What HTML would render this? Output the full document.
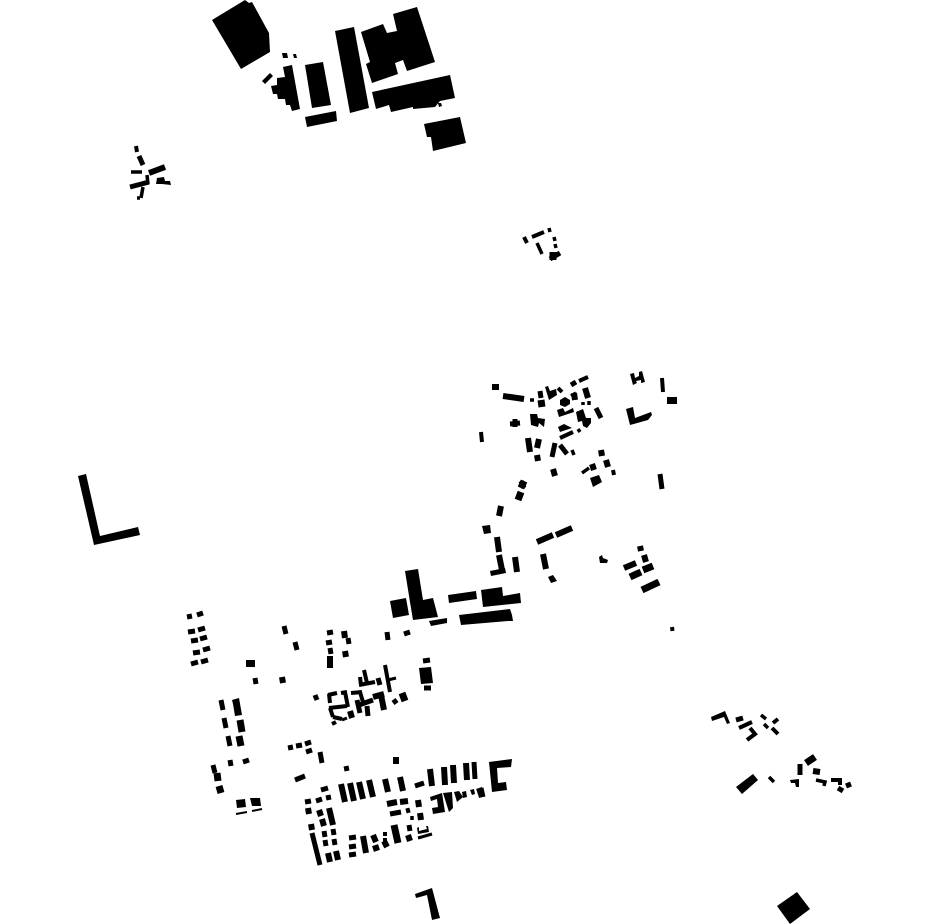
<!DOCTYPE html>
<html><head><meta charset="utf-8"><title>Figure-ground plan</title>
<style>html,body{margin:0;padding:0;background:#fff}svg{display:block}</style></head>
<body>
<svg width="930" height="924" viewBox="0 0 930 924" xmlns="http://www.w3.org/2000/svg">
<rect width="930" height="924" fill="#fff"/>
<g fill="#000">
<polygon points="212,20 245,0 249,3 252,2 269,33 270,52 241,69"/>
<polygon points="282,53 287,53 288,58 283,58"/><polygon points="293,54 296,54 297,58 294,58"/>
<polygon points="262,81 270,73 273,76 265,84"/>
<polygon points="283,67 292,65 300,109 292,111 290,105 286,105 285,99 278,99 277,94 273,94 271,86 277,85 277,78 285,77"/>
<polygon points="305,65 323,62 331,105 312,108"/>
<polygon points="305,117 336,111 337,121 307,127"/>
<polygon points="335,31 354,27 369,108 350,113"/>
<polygon points="361,32 383,24 387,33 397,31 393,14 417,7 435,62 407,71 403,60 395,63 398,74 372,83 366,64 370,62"/>
<polygon points="372,92 450,75 455,98 440,101 435,107 413,109 413,107 391,112 389,105 376,109"/>
<polygon points="438,103 441,103 442,106 439,107"/>
<polygon points="424,124 460,117 466,143 433,151 431,137 427,137"/>

<polygon points="492,384 499,384 499,390 492,390"/>
<polygon points="545,387 548,386 550,391 556,389 557,395 549,400"/>
<polygon points="557,410 563,408 565,412 573,408 574,412 559,417"/>
<polygon points="576,412 583,409 586,418 591,418 591,423 587,428 583,426 582,421 578,422"/>
<polygon points="530,414 537,414 538,418 545,419 544,427 539,423 538,427 531,425"/>
<polygon points="558,427 564,424 572,428 560,432"/>
<polygon points="590,478 599,475 602,482 593,487"/>
<polygon points="630,374 634,373 635,378 639,376 639,372 642,371 645,382 641,383 641,380 636,381 637,383 633,385"/>
<polygon points="667,397 677,397 677,404 667,404"/>
<polygon points="626,409 633,407 635,418 651,412 652,415 648,420 630,425"/>
<polygon points="560,400 565,397 570,400 570,404 565,407 560,405"/>

<polygon points="482,526 490,525 491,533 484,534"/>
<polygon points="490,571 505,568 506,573 491,576"/>
<polygon points="548,577 553,575 557,581 551,583"/>
<polygon points="599,557 602,555 603,558 608,560 607,563 600,563"/>
<polygon points="405,571 418,569 423,600 433,598 438,617 413,620 410,602"/>
<polygon points="390,601 406,598 409,615 393,618"/>
<polygon points="448,595 476,591 477,599 449,603"/>
<polygon points="481,590 502,587 503,596 520,593 521,603 483,607"/>
<polygon points="459,615 510,609 512,615 513,621 508,621 461,625"/>
<polygon points="429,621 447,618 447,623 431,626"/>

<polygon points="327,656 333,656 333,668 327,668"/>
<polygon points="246,660 255,660 255,667 246,667"/>
<polygon points="419,668 431,667 433,683 421,684"/>
<polygon points="232,700 239,698 242,715 235,716 233,704"/>

<polygon points="489,762 512,759 511,767 497,768 498,783 506,782 507,790 492,792"/>
<polygon points="236,800 245,799 246,807 237,808"/>
<polygon points="250,798 260,798 261,806 252,806"/>
<polygon points="430,797 442,793 445,812 433,814 432,808 438,807 437,799 431,801"/>
<polygon points="443,793 452,792 453,808 449,812"/>
<polygon points="454,792 459,791 463,797 457,802"/>
<polygon points="462,792 466,791 467,797 463,798"/>
<polygon points="470,790 474,789 475,794 472,795"/>
<polygon points="417,828 419,827 419,831 427,829 426,826 428,826 429,832 418,834"/>

<polygon points="711,717 725,711 730,723 727,724 724,717 712,721"/>
<polygon points="736,787 753,774 758,780 742,794"/>
<polygon points="790,780 799,779 799,787 796,787 795,783 791,783"/>
<polygon points="156,184 157,178 164,177 165,181 170,181 171,185 162,184"/>

<polygon points="78,476 86,474 100,536 138,527 140,535 94,545"/>
<polygon points="415,894 432,888 440,918 432,920 427,895 416,898"/>
<polygon points="777,906 797,892 810,909 790,924"/>
</g>
<g fill="none" stroke="#000" stroke-linecap="butt" stroke-linejoin="miter">
<path stroke-width="2" d="M236 814L247 812M252 811L262 809"/>
<path stroke-width="3" d="M388 680L396 678M342 720L347 718M418 838L432 834"/>
<path stroke-width="3.5" d="M530 400L534 400M583 402L583 405M589 401L589 405M576 393L571 396M578 429L580 432M572 450L574 455M582 473L589 468M131 172L142 172M147 175L148 184M143 187L141 198M137 198L140 198M549 228L550 232M537 243L542 254M554 237L555 241M555 244L556 248M761 715L766 719M764 724L768 728M769 777L774 782M816 780L825 782L824 786M412 816L412 820"/>
<path stroke-width="4" d="M579 381L588 377M481 432L482 442M524 237L527 243M532 237L544 232M329 694L330 703M328 695L337 693M341 693L347 692M345 692L348 707M351 693L362 692M360 692L363 702M329 708L347 706M330 708L333 717M333 717L342 719M332 724L336 722M385 665L390 692M359 685L375 682M364 670L367 683M360 677L361 685M662 378L663 392M739 728L752 722M750 728L755 734L747 740M773 723L778 719M772 728L778 734M831 780L840 780L840 785M136 146L137 152M558 388L562 392M560 438L573 432M672 627L672.5 631M613 470L614 475M385 832L385 836M385 838L385 843"/>
<path stroke-width="5" d="M187 617L192 616M197 615L203 613M188 632L195 631M198 630L205 628M191 641L198 640M200 639L207 637M193 653L200 652M203 650L210 648M191 664L198 662M201 662L208 660M326 643L332 642M327 633L333 632M404 634L410 632M423 661L430 660M424 688L431 688M571 385L576 382M510 424L520 423M515 419L515 427M552 457L555 443M560 445L567 454M596 408L601 418M540 391L541 398M284 626L286 634M295 642L297 650M330 648L331 654M348 638L349 644M387 632L388 640M255 678L256 684M315 695L317 700M378 678L380 685M221 700L223 710M224 718L226 728M228 736L230 746M230 760L231 766M243 762L249 760M213 765L215 773M346 766L347 771M288 748L293 747M296 746L302 745M305 744L311 742M306 752L312 750M295 780L305 776M320 752L322 763M305 802L311 801M316 801L322 799M326 798L331 797M321 790L328 788M312 833L320 865M324 831L325 837M333 829L334 835M325 840L326 846M334 839L335 845M349 838L356 837M349 847L356 846M349 855L356 854M359 0L359 0M415 786L424 783M481 788L483 797M474 762L475 779M390 814L401 812M406 811L410 810M409 825L410 831M736 720L743 718M800 764L800 775M838 788L843 791M846 786L851 784M550 259L560 253M393 703L397 700M357 700L360 713M359 705L373 700M367 706L368 716M409 808L409 808M660 474L662 489M139 156L143 165M130 187L149 182M521 481L524 488"/>
<path stroke-width="6" d="M503 396L524 399M585 388L588 398M528 438L530 452M539 439L537 448M537 455L538 461M553 469L555 476M601 450L602 456M592 464L594 470M149 173L165 167M499 516L501 506M497 537L499 552M499 555L502 570M515 557L517 572M537 542L553 535M556 535L572 528M543 554L546 569M344 631L345 638M345 651L346 657M574 393L575 400M606 460L608 467M644 555L646 562M640 546L641 551M282 677L283 683M341 784L345 802M350 783L354 801M359 782L363 799M369 780L373 797M385 779L388 792M400 777L403 791M430 769L432 786M444 767L445 785M453 765L454 783M466 763L467 780M329 808L333 825M387 804L397 802M400 802L408 801M418 800L419 807M420 813L421 820M396 757L396 764M813 771L820 772M373 697L384 694M381 695L384 710M479 788L482 797M328 853L330 862M336 851L338 860M363 836L366 853M373 835L376 842M373 849L379 847M384 841L387 847M308 808L309 814M319 810L321 816M311 824L312 830M322 819L324 826M408 835L410 841M624 568L636 563M350 711L352 718"/>
<path stroke-width="7" d="M541 400L542 407M630 577L641 572M643 570L653 566M642 590L659 582M806 763L815 757M217 773L218 781M219 786L221 793M240 720L242 732M239 736L241 746M402 693L405 701M394 825L398 843M553 252L553 260M521 492L518 500M524 481L521 488"/>
</g>
</svg>
</body></html>
